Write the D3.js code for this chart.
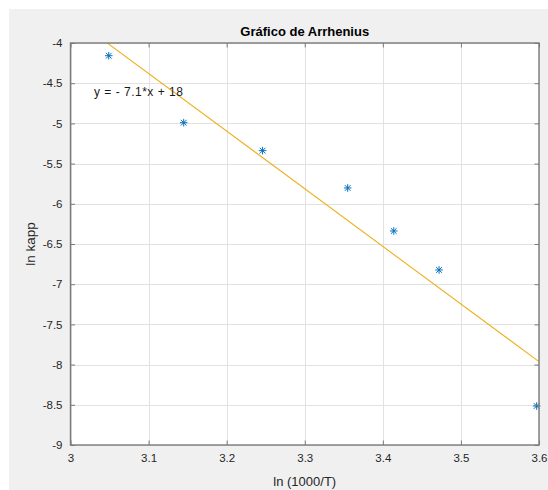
<!DOCTYPE html>
<html>
<head>
<meta charset="utf-8">
<script src="https://cdn.jsdelivr.net/npm/d3@7"></script>
<style>
  html, body { margin: 0; padding: 0; background: #ffffff; }
  svg { display: block; font-family: "Liberation Sans", Arial, Helvetica, sans-serif; }
</style>
</head>
<body>
<svg id="chart" width="548" height="490"></svg>
<script>
// Measured data: ln(1000/T) against ln kapp
const lnInvT = [3.049, 3.145, 3.246, 3.355, 3.414, 3.472, 3.597];
const lnKapp = [-4.158, -4.991, -5.339, -5.803, -6.338, -6.823, -8.515];

const xTicks = [3, 3.1, 3.2, 3.3, 3.4, 3.5, 3.6];
const yTicks = [-9, -8.5, -8, -7.5, -7, -6.5, -6, -5.5, -5, -4.5, -4];
const xDomain = [3, 3.6];
const yDomain = [-9, -4];

const titleText = "Gráfico de Arrhenius";
const xLabelText = "ln (1000/T)";
const yLabelText = "ln kapp";
const equationText = "y = - 7.1*x + 18";

const svg = d3.select("#chart");
const W = 548, H = 490;
const plot = { left: 70.5, right: 539, top: 43, bottom: 445 };

// figure background
svg.append("rect").attr("x", 9).attr("y", 9).attr("width", W - 9).attr("height", H - 9)
  .attr("fill", "#f0f0f0");

const x = d3.scaleLinear().domain(xDomain).range([plot.left, plot.right]);
const y = d3.scaleLinear().domain(yDomain).range([plot.bottom, plot.top]);

// axes background
svg.append("rect")
  .attr("x", plot.left).attr("y", plot.top)
  .attr("width", plot.right - plot.left).attr("height", plot.bottom - plot.top)
  .attr("fill", "#ffffff");

// grid
const grid = svg.append("g").attr("stroke", "#e2e2e2").attr("stroke-width", 1);
grid.selectAll("line.gx").data(xTicks).join("line")
  .attr("x1", d => Math.round(x(d)) + 0.5).attr("x2", d => Math.round(x(d)) + 0.5)
  .attr("y1", plot.top).attr("y2", plot.bottom);
grid.selectAll("line.gy").data(yTicks).join("line")
  .attr("y1", d => Math.round(y(d)) + 0.5).attr("y2", d => Math.round(y(d)) + 0.5)
  .attr("x1", plot.left).attr("x2", plot.right);

// least-squares fit through the points
const mx = d3.mean(lnInvT), my = d3.mean(lnKapp);
const sxy = d3.sum(lnInvT, (v, i) => (v - mx) * (lnKapp[i] - my));
const sxx = d3.sum(lnInvT, v => (v - mx) * (v - mx));
const slope = sxy / sxx;
const intercept = my - slope * mx;

svg.append("clipPath").attr("id", "plotclip").append("rect")
  .attr("x", plot.left).attr("y", plot.top)
  .attr("width", plot.right - plot.left).attr("height", plot.bottom - plot.top);

svg.append("line")
  .attr("clip-path", "url(#plotclip)")
  .attr("x1", x(xDomain[0])).attr("y1", y(slope * xDomain[0] + intercept))
  .attr("x2", x(xDomain[1])).attr("y2", y(slope * xDomain[1] + intercept))
  .attr("stroke", "#edb120").attr("stroke-width", 1.1);

// asterisk markers
const r = 3.8, rd = r * 0.75;
const pts = svg.append("g").attr("stroke", "#0072bd").attr("stroke-width", 1);
lnInvT.forEach((v, i) => {
  const cx = x(v), cy = y(lnKapp[i]);
  const g = pts.append("g").attr("transform", `translate(${cx},${cy})`);
  g.append("line").attr("x1", -r).attr("x2", r).attr("y1", 0).attr("y2", 0);
  g.append("line").attr("x1", 0).attr("x2", 0).attr("y1", -r).attr("y2", r);
  g.append("line").attr("x1", -rd).attr("x2", rd).attr("y1", -rd).attr("y2", rd);
  g.append("line").attr("x1", -rd).attr("x2", rd).attr("y1", rd).attr("y2", -rd);
});

// axes with inward ticks on all four sides
const fmt = d => String(d).replace("\u2212", "-");
const tickLen = 4.5;
const axisColor = "#7a7a7a";
function styleAxis(g) {
  g.select(".domain").remove();
  g.selectAll(".tick line").attr("stroke", axisColor);
  g.selectAll(".tick text").attr("fill", "#262626").attr("font-size", 11.5)
    .attr("font-family", "Liberation Sans, Arial, sans-serif");
}
svg.append("g").attr("transform", `translate(0,${plot.bottom})`)
  .call(d3.axisBottom(x).tickValues(xTicks).tickFormat(fmt).tickSizeInner(-tickLen).tickSizeOuter(0).tickPadding(9))
  .call(styleAxis);
svg.append("g").attr("transform", `translate(0,${plot.top})`)
  .call(d3.axisTop(x).tickValues(xTicks).tickFormat("").tickSizeInner(-tickLen).tickSizeOuter(0))
  .call(styleAxis);
svg.append("g").attr("transform", `translate(${plot.left},0)`)
  .call(d3.axisLeft(y).tickValues(yTicks).tickFormat(fmt).tickSizeInner(-tickLen).tickSizeOuter(0).tickPadding(8))
  .call(styleAxis);
svg.append("g").attr("transform", `translate(${plot.right},0)`)
  .call(d3.axisRight(y).tickValues(yTicks).tickFormat("").tickSizeInner(-tickLen).tickSizeOuter(0))
  .call(styleAxis);

// axes box
svg.append("rect")
  .attr("x", plot.left).attr("y", plot.top)
  .attr("width", plot.right - plot.left).attr("height", plot.bottom - plot.top)
  .attr("fill", "none").attr("stroke", axisColor).attr("stroke-width", 1.4);

// fit equation
svg.append("text")
  .attr("x", 94).attr("y", 96)
  .attr("font-size", 12).attr("letter-spacing", 0.5).attr("fill", "#1a1a1a")
  .text(equationText);

// title and labels
svg.append("text")
  .attr("x", (plot.left + plot.right) / 2).attr("y", 36)
  .attr("text-anchor", "middle").attr("font-size", 13).attr("font-weight", "bold")
  .attr("fill", "#000")
  .text(titleText);

svg.append("text")
  .attr("x", (plot.left + plot.right) / 2).attr("y", 486)
  .attr("text-anchor", "middle").attr("font-size", 13).attr("fill", "#262626")
  .text(xLabelText);

svg.append("text")
  .attr("transform", `translate(35,${(plot.top + plot.bottom) / 2}) rotate(-90)`)
  .attr("text-anchor", "middle").attr("font-size", 13.5).attr("fill", "#262626")
  .text(yLabelText);
</script>
</body>
</html>
